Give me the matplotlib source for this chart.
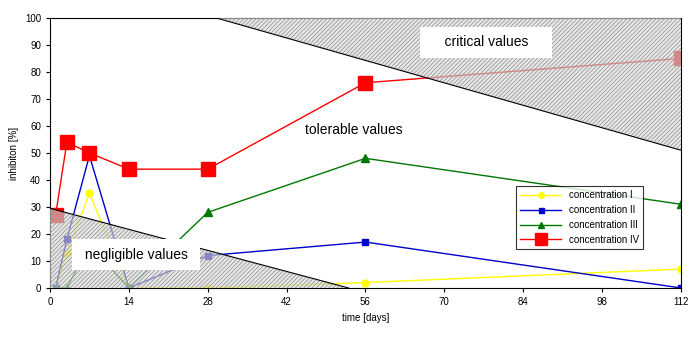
import numpy as np
import matplotlib.pyplot as plt
from matplotlib.patches import Polygon

plt.rcParams['font.family'] = ['Liberation Sans', 'DejaVu Sans']
plt.rcParams['hatch.linewidth'] = 0.6

# sampling days and inhibition values
days = [1, 3, 7, 14, 28, 56, 112]
conc_1 = [0, 13, 35, 0, 0, 2, 7]
conc_2 = [0, 18, 49, 0, 12, 17, 0]
conc_3 = [0, 0, 16, 0, 28, 48, 31]
conc_4 = [27, 54, 50, 44, 44, 76, 85]
labels = ["concentration I", "concentration II", "concentration III", "concentration IV"]

# threshold lines
negl_x = [0, 53]
negl_y = [29.5, 0]
crit_x = [29.5, 112]
crit_y = [100, 51]

fig = plt.figure(figsize=(6.97, 3.38), dpi=100)
ax = fig.add_axes([0.0717, 0.148, 0.9053, 0.799])

ax.plot(days, conc_1, color="#ffff00", marker="o", ms=5, lw=1, label=labels[0])
ax.plot(days, conc_2, color="#0000cc", marker="s", ms=4.5, lw=1, label=labels[1])
ax.plot(days, conc_3, color="#007700", marker="^", ms=6, lw=1, label=labels[2])
ax.plot(days, conc_4, color="#ff0000", marker="s", ms=10, lw=1, label=labels[3])

# shaded zones drawn above the series
shade = (0.85, 0.85, 0.85, 0.6)
for pts in ([(negl_x[0], negl_y[0]), (negl_x[1], negl_y[1]), (0, 0)],
            [(crit_x[0], crit_y[0]), (crit_x[1], crit_y[1]), (112, 100)]):
    ax.add_patch(Polygon(pts, closed=True, fc=shade, zorder=5, lw=0))
    ax.add_patch(Polygon(pts, closed=True, fc="none", ec="#999999", hatch="////////",
                         lw=0, zorder=5))
ax.plot(negl_x, negl_y, color="black", lw=0.8, zorder=6)
ax.plot(crit_x, crit_y, color="black", lw=0.8, zorder=6)

box = dict(facecolor="white", edgecolor="none", pad=6)
ax.text(77.4, 91, "    critical values    ", fontsize=10, ha="center", va="center",
        bbox=box, zorder=7)
ax.text(54, 58.5, "tolerable values", fontsize=10, ha="center", va="center", zorder=7)
ax.text(15.3, 12.3, " negligible values ", fontsize=10, ha="center", va="center",
        bbox=box, zorder=7)

ax.set_xlim(0, 112)
ax.set_ylim(0, 100)
ax.set_xticks(np.arange(0, 113, 14))
ax.set_yticks(np.arange(0, 101, 10))
ax.tick_params(labelsize=7, length=3)
ax.set_xlabel("time [days]", fontsize=7)
ax.set_ylabel("inhibiton [%]", fontsize=7)

leg = ax.legend(loc="upper left", bbox_to_anchor=(0.7385, 0.378), fontsize=7, frameon=True,
                fancybox=False, edgecolor="black", handlelength=4.2, borderpad=0.45,
                labelspacing=0.5, markerscale=0.8, borderaxespad=0)
leg.get_frame().set_linewidth(0.8)
leg.set_zorder(8)

fig.savefig("out.png", dpi=100)
